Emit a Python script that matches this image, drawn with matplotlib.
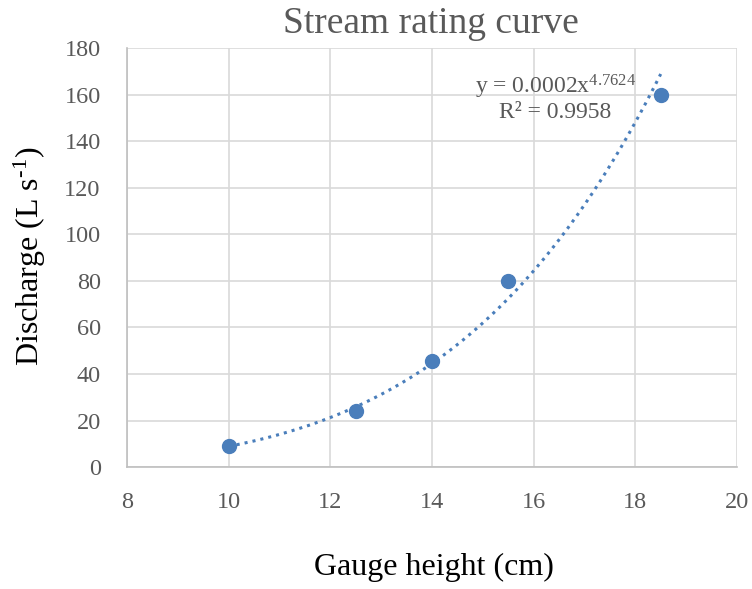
import matplotlib
matplotlib.use("Agg")
import matplotlib.pyplot as plt
import numpy as np

# gauge height (cm) vs discharge (L/s)
height = [10, 12.5, 14, 15.5, 18.5]
discharge = [9, 24, 45.5, 80, 160]

x_ticks = [8, 10, 12, 14, 16, 18, 20]
y_ticks = [0, 20, 40, 60, 80, 100, 120, 140, 160, 180]

plt.rcParams['font.family'] = ['Liberation Serif', 'DejaVu Serif']
plt.rcParams['mathtext.fontset'] = 'custom'
plt.rcParams['mathtext.rm'] = 'Liberation Serif'
plt.rcParams['mathtext.it'] = 'Liberation Serif:italic'

blue = '#4a7ebb'
gray = '#595959'

fig = plt.figure(figsize=(7.52, 5.89), dpi=100)
ax = fig.add_axes([0.169, 0.207, 0.811, 0.711])

# power trendline fitted in log space, like Excel does
b, loga = np.polyfit(np.log(height), np.log(discharge), 1)
xs = np.linspace(min(height), max(height), 200)
ax.plot(xs, np.exp(loga) * xs ** b, ':', color=blue, lw=2.2, zorder=2)
ax.plot(height, discharge, 'o', color=blue, ms=10, zorder=3)

ax.set_xlim(8, 20)
ax.set_ylim(0, 180)
ax.set_xticks(x_ticks)
ax.set_yticks(y_ticks)
ax.grid(True, color='#d9d9d9', lw=1.2)
ax.set_axisbelow(True)
for s in ['top', 'right']:
    ax.spines[s].set_visible(False)
for s in ['left', 'bottom']:
    ax.spines[s].set_color('#bfbfbf')
    ax.spines[s].set_linewidth(1.2)
ax.tick_params(length=0, labelsize=17.5, labelcolor=gray)
ax.tick_params(axis='y', pad=19)
ax.tick_params(axis='x', pad=18)

ax.text(16.43, 163.5, 'y = 0.0002x$^{4.7624}$', ha='center', va='center',
        fontsize=17, color=gray)
ax.text(16.43, 152.5, 'R² = 0.9958', ha='center', va='center',
        fontsize=17, color=gray)

fig.text(0.5725, 0.960, 'Stream rating curve', ha='center', va='center',
         fontsize=27, color=gray)
fig.text(0.5775, 0.037, 'Gauge height (cm)', ha='center', va='center',
         fontsize=23, color='black')
fig.text(0.04, 0.565, r'Discharge (L s$^{\text{-}1}$)', ha='center', va='center',
         rotation=90, fontsize=23, color='black')

fig.savefig('out.png', dpi=100)
